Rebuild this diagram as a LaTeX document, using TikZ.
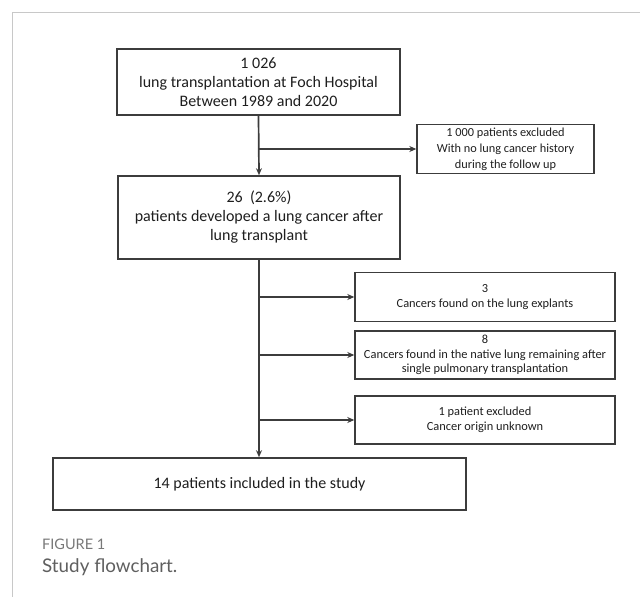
\documentclass[tikz,border=0pt]{standalone}
\usepackage{fontspec}
\setmainfont{Carlito}
\newfontfamily\capfont{Lato}
\usetikzlibrary{arrows.meta, positioning}
\definecolor{boxline}{RGB}{60,60,60}
\definecolor{boxtext}{RGB}{30,30,30}
\definecolor{framegray}{RGB}{200,200,200}
\definecolor{capgray}{RGB}{120,120,120}
\definecolor{capdark}{RGB}{95,95,95}
\tikzset{
  mainbox/.style={rectangle,draw=boxline,line width=1.6pt,align=center,
    text=boxtext,inner sep=0pt,font=\fontsize{16}{19}\selectfont},
  sidebox/.style={rectangle,draw=boxline,line width=1.4pt,align=center,
    text=boxtext,inner sep=0pt,font=\fontsize{12.4}{14.5}\selectfont},
  arrow/.style={-{Stealth[length=7pt,width=6pt]},line width=1.7pt,color=boxline},
  frame/.style={line width=0.9pt,color=framegray}
}
\begin{document}
\begin{tikzpicture}[x=1pt,y=-1pt]
  \useasboundingbox (0,0) rectangle (640,597);
  % -- page frame ------------------------------------------------------------
  \draw[frame] (12,597) -- (12,12) -- (640,12);

  % -- main column -----------------------------------------------------------
  \node[mainbox,minimum width=283pt,minimum height=66pt] (total) at (258.5,82)
    {1 026\\lung transplantation at Foch Hospital\\Between 1989 and 2020};
  \node[mainbox,minimum width=282pt,minimum height=83pt] (cancer) at (259,217.5)
    {26~~(2.6\%)\\patients developed a lung cancer after\\lung transplant};
  \node[mainbox,minimum width=413pt,minimum height=52pt] (study) at (259.5,484)
    {14 patients included in the study};

  % -- exclusion boxes -------------------------------------------------------
  \node[sidebox,minimum width=177pt,minimum height=49pt,
    font=\fontsize{12.3}{16}\selectfont] (nohist) at (505.5,149)
    {1 000 patients excluded\\With no lung cancer history\\during the follow up};
  \node[sidebox,minimum width=260pt,minimum height=49pt] (explant) at (485,297)
    {3\\Cancers found on the lung explants};
  \node[sidebox,minimum width=260pt,minimum height=48pt] (native) at (485,355)
    {8\\Cancers found in the native lung remaining after\\single pulmonary transplantation};
  \node[sidebox,minimum width=260pt,minimum height=48pt] (unknown) at (485,420)
    {1 patient excluded\\Cancer origin unknown};

  % -- connectors ------------------------------------------------------------
  \draw[arrow] (total.south) -- (cancer.north);
  \draw[arrow] (total.south |- nohist.west) -- (nohist.west);
  \draw[arrow] (cancer.south) -- (study.north -| cancer.south);
  \foreach \target in {explant,native,unknown}
    \draw[arrow] (cancer.south |- \target.west) -- (\target.west);

  % -- caption ---------------------------------------------------------------
  \node[anchor=west,font=\capfont\fontsize{14.5}{17}\selectfont,text=capgray,inner sep=0pt]
    (figlabel) at (42,544) {FIGURE 1};
  \node[anchor=west,font=\capfont\fontsize{18.8}{22}\selectfont,text=capdark,inner sep=0pt]
    (figcaption) at (42,567) {Study flowchart.};
\end{tikzpicture}
\end{document}
